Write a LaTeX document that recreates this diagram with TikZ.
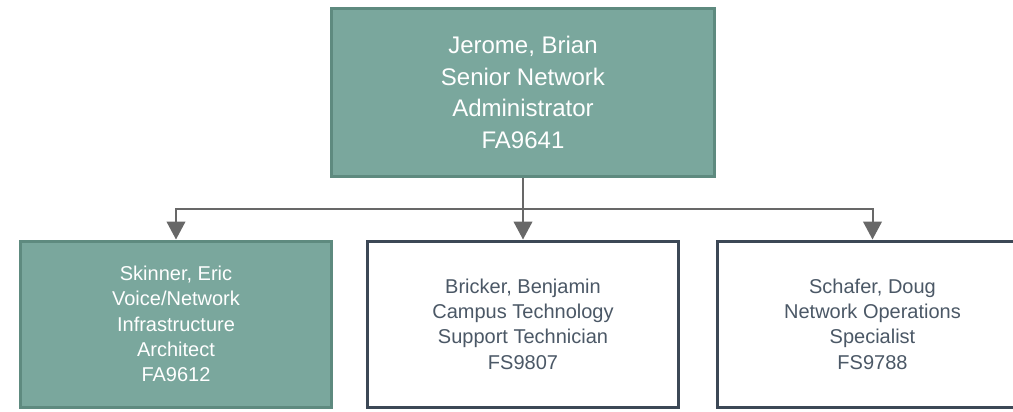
\documentclass[tikz,border=0pt]{standalone}
\usepackage{fontspec}
\setmainfont{Liberation Sans}
\usetikzlibrary{arrows.meta}
\definecolor{boxgreen}{RGB}{122,167,157}
\definecolor{boxgreenline}{RGB}{94,138,127}
\definecolor{slateline}{RGB}{60,72,86}
\definecolor{slatetext}{RGB}{75,88,102}
\definecolor{connc}{RGB}{104,104,104}
\tikzset{
  topbox/.style={draw=boxgreenline, fill=boxgreen, line width=2.25pt, text=white,
    minimum width=287.25pt, minimum height=126pt, align=center, inner sep=0pt,
    font=\fontsize{18}{23.8}\selectfont},
  greenbox/.style={draw=boxgreenline, fill=boxgreen, line width=2.25pt, text=white,
    minimum width=233.25pt, minimum height=124.5pt, align=center, inner sep=0pt,
    font=\fontsize{15}{19}\selectfont},
  whitebox/.style={draw=slateline, fill=white, line width=2.25pt, text=slatetext,
    minimum width=233.25pt, minimum height=124.5pt, align=center, inner sep=0pt,
    font=\fontsize{15}{19}\selectfont},
  conn/.style={draw=connc, line width=1.5pt, -{Triangle[width=14pt,length=13.5pt]}}
}
\begin{document}
\begin{tikzpicture}[x=0.75pt,y=-0.75pt]
\clip (0,0) rectangle (1013,411);
\fill[white] (0,0) rectangle (1013,411);
\node[topbox] (top) at (523,92.5) {Jerome, Brian\\Senior Network\\Administrator\\FA9641};
\node[greenbox] (left) at (176,324) {Skinner, Eric\\Voice/Network\\Infrastructure\\Architect\\FA9612};
\node[whitebox] (mid) at (523,324) {Bricker, Benjamin\\Campus Technology\\Support Technician\\FS9807};
\node[whitebox] (right) at (872.5,324) {Schafer, Doug\\Network Operations\\Specialist\\FS9788};
\path (top.south) ++(0,31) coordinate (bus);
\draw[conn] (top.south) -- (bus) -| (left.north);
\draw[conn] (bus) -| (right.north);
\draw[conn] (bus) -- (mid.north);
\end{tikzpicture}
\end{document}
